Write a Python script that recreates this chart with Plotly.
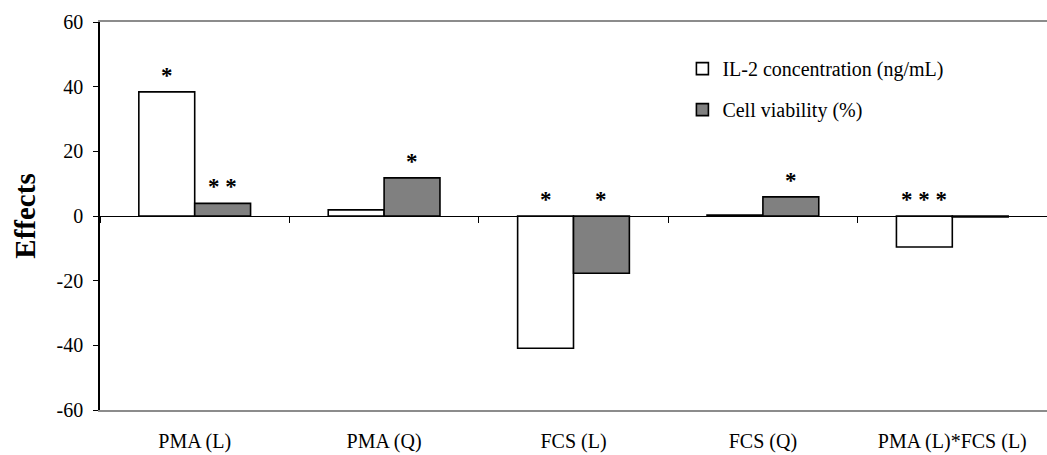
import plotly.graph_objects as go

categories = ["PMA (L)", "PMA (Q)", "FCS (L)", "FCS (Q)", "PMA (L)*FCS (L)"]
il2_values = [38.4, 1.9, -40.9, 0.3, -9.6]
viability_values = [3.9, 11.8, -17.7, 5.9, -0.3]
il2_marks = ["*", "", "*", "", "* * *"]
viability_marks = ["* *", "*", "*", "*", ""]
series_names = ["IL-2 concentration (ng/mL)", "Cell viability (%)"]
y_ticks = [-60, -40, -20, 0, 20, 40, 60]
y_tick_labels = ["-60", "-40", "-20", "0", "20", "40", "60"]

SERIF = "Liberation Serif"
YMIN, YMAX = -60, 60
BARGAP = 0.41

fig = go.Figure()
fig.add_trace(go.Bar(
    x=categories, y=il2_values, name=series_names[0],
    marker=dict(color="white", line=dict(color="black", width=1.6)),
    legendgroup="a",
))
fig.add_trace(go.Bar(
    x=categories, y=viability_values, name=series_names[1],
    marker=dict(color="#808080", line=dict(color="black", width=1.6)),
    legendgroup="b",
))
# helper trace for the zero-line axis with boundary ticks
fig.add_trace(go.Scatter(
    x=categories, y=[None] * len(categories), xaxis="x2", yaxis="y",
    showlegend=False, hoverinfo="skip", mode="markers",
))

half = (1 - BARGAP) / 2
for i, (m1, m2, v1, v2) in enumerate(zip(il2_marks, viability_marks, il2_values, viability_values)):
    for mark, v, off in ((m1, v1, -half / 2), (m2, v2, half / 2)):
        if mark:
            fig.add_annotation(
                x=i + off, y=max(v, 0), xref="x", yref="y",
                text="<b>" + mark + "</b>", showarrow=False, yanchor="bottom", yshift=2,
                font=dict(family=SERIF, size=23, color="black"),
            )

fig.update_layout(
    width=1047, height=455,
    margin=dict(l=100, r=0, t=22, b=45),
    paper_bgcolor="white", plot_bgcolor="white",
    barmode="group", bargap=BARGAP, bargroupgap=0,
    font=dict(family=SERIF, color="black", size=19),
    showlegend=True,
    legend=dict(
        x=0.615, y=0.93, xanchor="left", yanchor="top",
        font=dict(family=SERIF, size=20, color="black"),
        bgcolor="rgba(0,0,0,0)", traceorder="grouped", tracegroupgap=12,
        itemwidth=30,
    ),
    xaxis=dict(
        type="category", categoryorder="array", categoryarray=categories,
        range=[-0.5, len(categories) - 0.5],
        showline=True, linecolor="#8c8c8c", linewidth=2, mirror=True,
        ticks="", showgrid=False, zeroline=False,
        tickfont=dict(family=SERIF, size=20, color="black"),
        ticklabelstandoff=12,
    ),
    xaxis2=dict(
        type="category", categoryorder="array", categoryarray=categories,
        range=[-0.5, len(categories) - 0.5],
        overlaying="x", anchor="free",
        position=(0 - YMIN) / (YMAX - YMIN),
        showline=True, linecolor="black", linewidth=1.2,
        ticks="outside", ticklen=6, tickwidth=1.2, tickcolor="black",
        tickson="boundaries", showticklabels=False, showgrid=False,
        zeroline=False,
    ),
    yaxis=dict(
        range=[YMIN, YMAX], tickvals=y_ticks, ticktext=y_tick_labels,
        showline=True, linecolor="black", linewidth=1.5, mirror=False,
        ticks="outside", ticklen=5, tickwidth=1.2, tickcolor="black",
        showgrid=False, zeroline=False,
        tickfont=dict(family=SERIF, size=20, color="black"),
        ticklabelstandoff=6,
        title=dict(text="<b>Effects</b>", font=dict(family=SERIF, size=29, color="black"), standoff=12),
    ),
)

fig.write_html("out.html")
